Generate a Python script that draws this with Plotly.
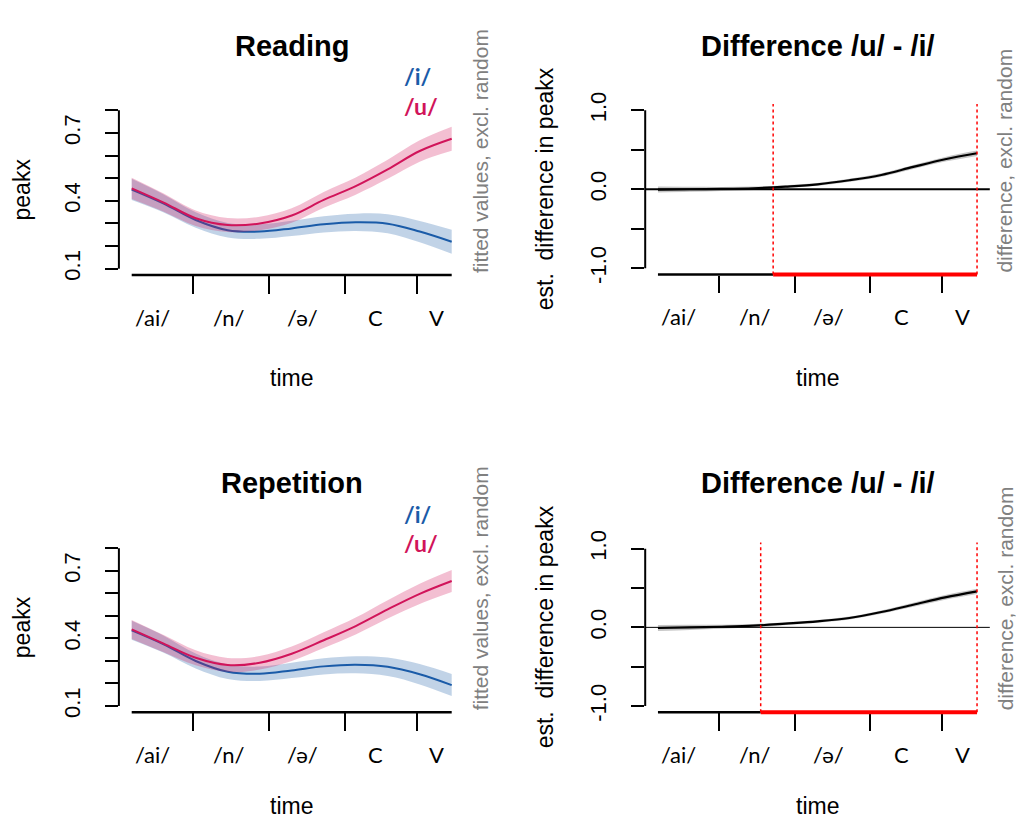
import plotly.graph_objects as go

W, H = 1016, 824

# ---------------- data ----------------
t = [0.0, 0.1, 0.2, 0.3, 0.4, 0.5, 0.6, 0.7, 0.8, 0.9, 1.0]

read_u = [0.455, 0.392, 0.323, 0.293, 0.300, 0.335, 0.404, 0.465, 0.539, 0.620, 0.674]
read_u_ci = [0.047, 0.040, 0.034, 0.031, 0.030, 0.032, 0.035, 0.038, 0.042, 0.047, 0.053]
read_i = [0.450, 0.388, 0.315, 0.270, 0.264, 0.278, 0.296, 0.305, 0.299, 0.264, 0.219]
read_i_ci = [0.047, 0.040, 0.034, 0.032, 0.032, 0.034, 0.036, 0.038, 0.042, 0.047, 0.053]

rep_u = [0.440, 0.377, 0.314, 0.282, 0.292, 0.332, 0.392, 0.455, 0.529, 0.598, 0.655]
rep_u_ci = [0.042, 0.038, 0.033, 0.031, 0.030, 0.032, 0.035, 0.038, 0.041, 0.045, 0.049]
rep_i = [0.436, 0.374, 0.300, 0.252, 0.243, 0.258, 0.276, 0.283, 0.274, 0.241, 0.193]
rep_i_ci = [0.042, 0.038, 0.033, 0.032, 0.032, 0.034, 0.036, 0.038, 0.041, 0.045, 0.049]

read_diff = [-0.004, 0.000, 0.004, 0.013, 0.034, 0.063, 0.114, 0.181, 0.283, 0.380, 0.456]
read_diff_ci = [0.038, 0.032, 0.026, 0.021, 0.018, 0.017, 0.018, 0.021, 0.025, 0.030, 0.034]
rep_diff = [-0.008, 0.000, 0.008, 0.021, 0.047, 0.076, 0.119, 0.195, 0.288, 0.381, 0.458]
rep_diff_ci = [0.038, 0.032, 0.026, 0.021, 0.018, 0.017, 0.018, 0.021, 0.025, 0.030, 0.034]

read_sig = [0.361, 1.0]
rep_sig = [0.322, 1.0]

seg_bounds = [0.19, 0.43, 0.665, 0.89]
seg_label_pos = [0.065, 0.303, 0.535, 0.762, 0.953]
seg_labels = ["/ai/", "/n/", "/ə/", "C", "V"]

fit_ticks = [0.1, 0.2, 0.3, 0.4, 0.5, 0.6, 0.7, 0.8]
fit_ticktext = ["0.1", "", "", "0.4", "", "", "0.7", ""]
diff_ticks = [-1.0, -0.5, 0.0, 0.5, 1.0]
diff_ticktext = ["-1.0", "", "0.0", "", "1.0"]

# ---------------- style ----------------
BLUE = "#1a5ba8"
RED = "#d1145a"
BLUE_F = "rgba(26,91,168,0.27)"
RED_F = "rgba(209,20,90,0.27)"
GRAY_F = "rgba(90,90,90,0.35)"
SANS = "Liberation Sans, Arial, sans-serif"
HUM = "Lato, Open Sans, sans-serif"
SIDE_GRAY = "#808080"

# vertical placement: the captured picture maps page row y to 11.05 + 0.9744*y
VS, VOFF = 0.9744, 11.05


def px_x(p):
    return p / W


def page_y(yref):
    return (yref - VOFF) / VS


def px_y(yref):
    return 1 - page_y(yref) / H


fig = go.Figure()

panels = [
    dict(n=1, kind="fit", xd=(118.9, 464.5), yd=(102.96, 274.04), title="Reading", ty=45,
         u=read_u, uci=read_u_ci, i=read_i, ici=read_i_ci, leg=(75, 105), tty=377),
    dict(n=2, kind="diff", xd=(645.2, 989.8), yd=(103.0, 273.6), title="Difference /u/ - /i/", ty=45,
         d=read_diff, dci=read_diff_ci, sig=read_sig, zw=1.8, tty=377),
    dict(n=3, kind="fit", xd=(118.9, 464.5), yd=(541.0, 711.3), title="Repetition", ty=482,
         u=rep_u, uci=rep_u_ci, i=rep_i, ici=rep_i_ci, leg=(513, 542), tty=805),
    dict(n=4, kind="diff", xd=(645.2, 989.8), yd=(541.4, 711.3), title="Difference /u/ - /i/", ty=482,
         d=rep_diff, dci=rep_diff_ci, sig=rep_sig, zw=1.0, tty=805),
]

layout_axes = {}
shapes = []
annotations = []


def band(xs, mid, ci, xa, ya, fillcolor):
    lo = [m - c for m, c in zip(mid, ci)]
    hi = [m + c for m, c in zip(mid, ci)]
    fig.add_trace(go.Scatter(x=xs, y=lo, mode="lines", line=dict(width=0, shape="spline"),
                             xaxis=xa, yaxis=ya, showlegend=False, hoverinfo="skip"))
    fig.add_trace(go.Scatter(x=xs, y=hi, mode="lines", line=dict(width=0, shape="spline"),
                             fill="tonexty", fillcolor=fillcolor,
                             xaxis=xa, yaxis=ya, showlegend=False, hoverinfo="skip"))


for p in panels:
    n = p["n"]
    xa = "x" if n == 1 else f"x{n}"
    ya = "y" if n == 1 else f"y{n}"
    xkey = "xaxis" if n == 1 else f"xaxis{n}"
    ykey = "yaxis" if n == 1 else f"yaxis{n}"
    x0, x1 = p["xd"]
    ytop, ybot = p["yd"]
    cx = (x0 + x1) / 2

    if p["kind"] == "fit":
        yrange = [0.1 - 0.028, 0.8 + 0.028]
        tv, tt = fit_ticks, fit_ticktext
        ylo, yhi = 0.1, 0.8
    else:
        yrange = [-1.08, 1.08]
        tv, tt = diff_ticks, diff_ticktext
        ylo, yhi = -1.0, 1.0

    layout_axes[xkey] = dict(domain=[px_x(x0), px_x(x1)], anchor=ya, range=[-0.04, 1.04],
                             showgrid=False, zeroline=False, showline=False,
                             tickmode="array", tickvals=seg_bounds, showticklabels=False,
                             ticks="outside", ticklen=17.5, tickwidth=2, tickcolor="black")
    layout_axes[ykey] = dict(domain=[px_y(ybot), px_y(ytop)], anchor=xa, range=yrange,
                             showgrid=False, zeroline=False, showline=False,
                             tickmode="array", tickvals=tv, ticktext=tt,
                             ticks="outside", ticklen=13, tickwidth=2, tickcolor="black",
                             tickangle=-90, ticklabelstandoff=16,
                             tickfont=dict(family=SANS, size=22, color="black"))

    if p["kind"] == "fit":
        band(t, p["i"], p["ici"], xa, ya, BLUE_F)
        fig.add_trace(go.Scatter(x=t, y=p["i"], mode="lines", line=dict(color=BLUE, width=2, shape="spline"),
                                 xaxis=xa, yaxis=ya, showlegend=False))
        band(t, p["u"], p["uci"], xa, ya, RED_F)
        fig.add_trace(go.Scatter(x=t, y=p["u"], mode="lines", line=dict(color=RED, width=2, shape="spline"),
                                 xaxis=xa, yaxis=ya, showlegend=False))
        shapes.append(dict(type="line", xref=xa, yref=f"{ya} domain", x0=t[0], x1=t[-1], y0=0, y1=0,
                           line=dict(color="black", width=2.5)))
        annotations.append(dict(text="<b>/i/</b>", x=px_x(402), y=px_y(p["leg"][0]), xref="paper", yref="paper",
                                xanchor="left", yanchor="middle", showarrow=False,
                                font=dict(family=HUM, size=23, color=BLUE)))
        annotations.append(dict(text="<b>/u/</b>", x=px_x(402), y=px_y(p["leg"][1]), xref="paper", yref="paper",
                                xanchor="left", yanchor="middle", showarrow=False,
                                font=dict(family=HUM, size=23, color=RED)))
        side_text, side_x = "fitted values, excl. random", 480
        ytitle, ytitle_x = "peakx", 22
    else:
        band(t, p["d"], p["dci"], xa, ya, GRAY_F)
        fig.add_trace(go.Scatter(x=t, y=p["d"], mode="lines", line=dict(color="black", width=2.2, shape="spline"),
                                 xaxis=xa, yaxis=ya, showlegend=False))
        s0, s1 = p["sig"]
        shapes.append(dict(type="line", xref=f"{xa} domain", yref=ya, x0=0, x1=1, y0=0, y1=0,
                           line=dict(color="black", width=p["zw"])))
        shapes.append(dict(type="line", xref=xa, yref=f"{ya} domain", x0=t[0], x1=s0, y0=0, y1=0,
                           line=dict(color="black", width=2.5)))
        shapes.append(dict(type="line", xref=xa, yref=f"{ya} domain", x0=s0, x1=s1, y0=0, y1=0,
                           line=dict(color="#ff0000", width=4)))
        for sx in (s0, s1):
            shapes.append(dict(type="line", xref=xa, yref=f"{ya} domain", x0=sx, x1=sx, y0=0, y1=1,
                               line=dict(color="#ff0000", width=1.5, dash="dot")))
        side_text, side_x = "difference, excl. random", 1005
        ytitle, ytitle_x = "est.  difference in peakx", 545

    shapes.append(dict(type="line", xref=f"{xa} domain", yref=ya, x0=0, x1=0, y0=ylo, y1=yhi,
                       line=dict(color="black", width=2)))

    for lx, lt in zip(seg_label_pos, seg_labels):
        annotations.append(dict(text=lt, x=lx, y=0, xref=xa, yref=f"{ya} domain",
                                xanchor="center", yanchor="middle", yshift=-42, showarrow=False,
                                font=dict(family=HUM, size=22, color="black")))

    annotations.append(dict(text=f"<b>{p['title']}</b>", x=px_x(cx), y=px_y(p["ty"]), xref="paper", yref="paper",
                            xanchor="center", yanchor="middle", showarrow=False,
                            font=dict(family=SANS, size=29, color="black")))
    annotations.append(dict(text="time", x=px_x(cx), y=px_y(p["tty"]), xref="paper", yref="paper",
                            xanchor="center", yanchor="middle", showarrow=False,
                            font=dict(family=SANS, size=23, color="black")))
    annotations.append(dict(text=ytitle, x=px_x(ytitle_x), y=px_y((ytop + ybot) / 2), xref="paper", yref="paper",
                            xanchor="center", yanchor="middle", textangle=-90, showarrow=False,
                            font=dict(family=SANS, size=23, color="black")))
    annotations.append(dict(text=side_text, x=px_x(side_x), y=px_y(ybot), xref="paper", yref="paper",
                            xanchor="center", yanchor="bottom", textangle=-90, showarrow=False,
                            font=dict(family=SANS, size=21, color=SIDE_GRAY)))

fig.update_layout(
    width=W, height=H, autosize=False,
    margin=dict(l=0, r=0, t=0, b=0),
    paper_bgcolor="white", plot_bgcolor="white",
    showlegend=False,
    shapes=shapes, annotations=annotations,
    **layout_axes,
)

fig.write_html(
    "out.html",
    config={"displayModeBar": False},
    post_script="document.body.style.margin='0';document.body.style.overflow='hidden';",
)
